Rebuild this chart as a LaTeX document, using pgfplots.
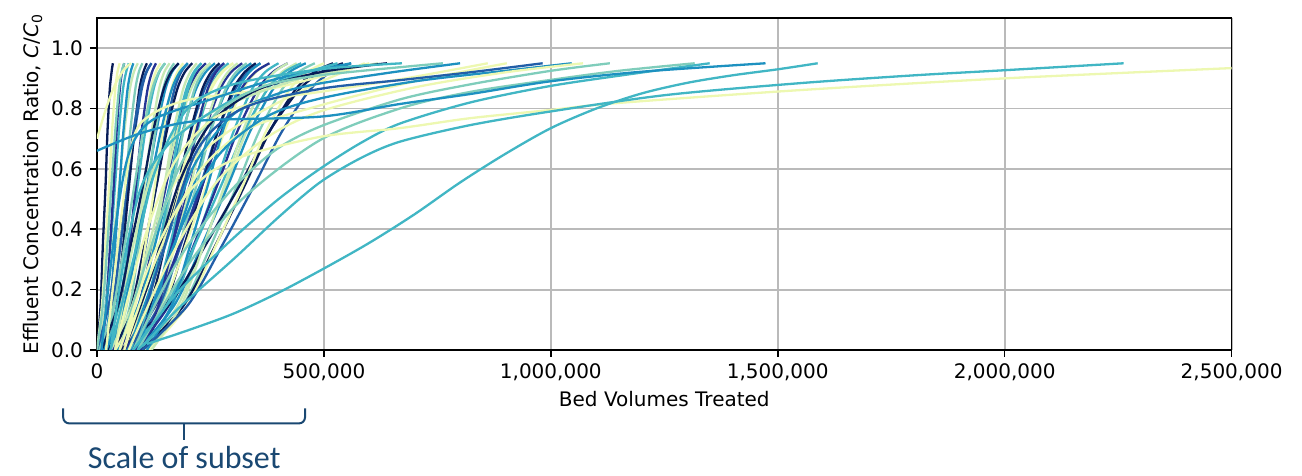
\documentclass[border=0pt]{standalone}
\usepackage{pgfplots}
\pgfplotsset{compat=1.18}
\usepackage{fontspec}
\setmainfont{DejaVu Sans}
\newfontfamily\callout{Carlito}
\definecolor{yl}{HTML}{EDF8B1}
\definecolor{lg}{HTML}{C7E9B4}
\definecolor{mt}{HTML}{7FCDBB}
\definecolor{tl}{HTML}{41B6C4}
\definecolor{bl}{HTML}{1D91C0}
\definecolor{mb}{HTML}{225EA8}
\definecolor{ind}{HTML}{253494}
\definecolor{nv}{HTML}{081D58}
\definecolor{subblue}{HTML}{1A4872}
\definecolor{gridgray}{HTML}{BABABA}
\begin{document}
\begin{tikzpicture}
\path[use as bounding box] (-48.5pt,-63pt) rectangle (602.5pt,175pt);
\begin{axis}[
  at={(0pt,0pt)}, anchor=south west,
  width=567.3pt, height=166pt, scale only axis,
  xmin=0, xmax=2500, ymin=0, ymax=1.1,
  xtick={0,500,1000,1500,2000,2500},
  xticklabels={0,{500,000},{1,000,000},{1,500,000},{2,000,000},{2,500,000}},
  ytick={0,0.2,0.4,0.6,0.8,1.0},
  yticklabels={0.0,0.2,0.4,0.6,0.8,1.0},
  tick align=outside, tick pos=left, major tick length=3.5pt,
  grid=major, grid style={color=gridgray, line width=0.9pt},
  axis line style={line width=0.8pt},
  every tick/.style={black, line width=0.8pt},
  tick label style={font=\fontsize{10}{12}\selectfont},
  label style={font=\fontsize{10}{12}\selectfont},
  xlabel={Bed Volumes Treated},
  ylabel={Effluent Concentration Ratio, \textit{C}/\textit{C}\textsubscript{0}},
  xlabel style={at={([yshift=-24.5pt]axis description cs:0.5,0)}, anchor=center},
  ylabel style={at={([xshift=-32pt]axis description cs:0,0.5)}, anchor=center},
  no markers,
  cycle list={{nv},{yl},{tl},{ind},{lg},{bl},{mt},{mb}},
  every axis plot/.append style={line width=1.15pt, smooth, line join=round},
]
% dense group of breakthrough curves (x in thousands of bed volumes)
\addplot coordinates {(0,0)(8,.15)(13,.35)(19,.55)(23,.72)(28,.86)(32,.92)(35,.95)};
\addplot coordinates {(0,0)(11,.15)(19,.35)(27,.55)(33,.72)(40,.86)(45,.92)(50,.95)};
\addplot coordinates {(5,0)(19,.15)(30,.35)(40,.55)(48,.72)(57,.86)(64,.92)(70,.95)};
\addplot coordinates {(10,0)(21,.15)(29,.35)(37,.55)(43,.72)(50,.86)(55,.92)(60,.95)};
\addplot coordinates {(0,0)(20,.15)(35,.35)(49,.55)(60,.72)(72,.86)(81,.92)(90,.95)};
\addplot coordinates {(15,0)(29,.15)(40,.35)(50,.55)(58,.72)(67,.86)(74,.92)(80,.95)};
\addplot coordinates {(20,0)(38,.15)(51,.35)(63,.55)(73,.72)(84,.86)(92,.92)(100,.95)};
\addplot coordinates {(10,0)(34,.15)(52,.35)(69,.55)(83,.72)(98,.86)(109,.92)(120,.95)};
\addplot coordinates {(25,0)(44,.15)(58,.35)(71,.55)(82,.72)(93,.86)(102,.92)(110,.95)};
\addplot coordinates {(30,0)(54,.15)(72,.35)(89,.55)(103,.72)(118,.86)(129,.92)(140,.95)};
\addplot coordinates {(20,0)(49,.15)(70,.35)(90,.55)(106,.72)(124,.86)(137,.92)(150,.95)};
\addplot coordinates {(35,0)(56,.15)(72,.35)(86,.55)(98,.72)(111,.86)(121,.92)(130,.95)};
\addplot coordinates {(40,0)(66,.15)(86,.35)(105,.55)(120,.72)(136,.86)(148,.92)(160,.95)};
\addplot coordinates {(30,0)(63,.15)(88,.35)(111,.55)(130,.72)(150,.86)(165,.92)(180,.95)};
\addplot coordinates {(45,0)(73,.15)(93,.35)(113,.55)(128,.72)(145,.86)(158,.92)(170,.95)};
\addplot coordinates {(50,0)(83,.15)(108,.35)(131,.55)(150,.72)(170,.86)(185,.92)(200,.95)};
\addplot coordinates {(40,0)(77,.15)(105,.35)(132,.55)(153,.72)(176,.86)(193,.92)(210,.95)};
\addplot coordinates {(55,0)(85,.15)(107,.35)(128,.55)(145,.72)(163,.86)(177,.92)(190,.95)};
\addplot coordinates {(60,0)(97,.15)(125,.35)(152,.55)(173,.72)(196,.86)(213,.92)(230,.95)};
\addplot coordinates {(50,0)(92,.15)(123,.35)(153,.55)(176,.72)(202,.86)(221,.92)(240,.95)};
\addplot coordinates {(65,0)(99,.15)(125,.35)(149,.55)(168,.72)(189,.86)(205,.92)(220,.95)};
\addplot coordinates {(45,0)(92,.15)(128,.35)(161,.55)(188,.72)(217,.86)(239,.92)(260,.95)};
\addplot coordinates {(70,0)(110,.15)(139,.35)(167,.55)(190,.72)(214,.86)(232,.92)(250,.95)};
\addplot coordinates {(60,0)(108,.15)(145,.35)(179,.55)(206,.72)(236,.86)(258,.92)(280,.95)};
\addplot coordinates {(75,0)(118,.15)(150,.35)(180,.55)(205,.72)(231,.86)(251,.92)(270,.95)};
\addplot coordinates {(55,0)(109,.15)(149,.35)(187,.55)(218,.72)(251,.86)(276,.92)(300,.95)};
\addplot coordinates {(80,0)(126,.15)(161,.35)(193,.55)(220,.72)(248,.86)(269,.92)(290,.95)};
\addplot coordinates {(70,0)(125,.15)(166,.35)(205,.55)(236,.72)(270,.86)(295,.92)(320,.95)};
\addplot coordinates {(85,0)(135,.15)(172,.35)(207,.55)(235,.72)(265,.86)(288,.92)(310,.95)};
\addplot coordinates {(65,0)(126,.15)(171,.35)(214,.55)(248,.72)(285,.86)(313,.92)(340,.95)};
\addplot coordinates {(90,0)(143,.15)(182,.35)(220,.55)(250,.72)(282,.86)(306,.92)(330,.95)};
\addplot coordinates {(75,0)(138,.15)(185,.35)(229,.55)(265,.72)(303,.86)(332,.92)(360,.95)};
\addplot coordinates {(95,0)(151,.15)(193,.35)(233,.55)(265,.72)(299,.86)(325,.92)(350,.95)};
\addplot coordinates {(80,0)(146,.15)(196,.35)(242,.55)(280,.72)(320,.86)(350,.92)(380,.95)};
\addplot coordinates {(100,0)(166,.15)(216,.35)(262,.55)(300,.72)(340,.86)(370,.92)(400,.95)};
\addplot coordinates {(85,0)(159,.15)(214,.35)(266,.55)(308,.72)(353,.86)(387,.92)(420,.95)};
\addplot coordinates {(105,0)(179,.15)(234,.35)(286,.55)(328,.72)(373,.86)(407,.92)(440,.95)};
\addplot coordinates {(90,0)(171,.15)(232,.35)(290,.55)(336,.72)(386,.86)(423,.92)(460,.95)};
\addplot coordinates {(110,0)(191,.15)(252,.35)(310,.55)(356,.72)(406,.86)(443,.92)(480,.95)};
\addplot[nv] coordinates {(51,0)(159,.15)(240,.35)(316,.55)(378,.72)(444,.86)(493,.92)(542,.95)};
\addplot coordinates {(100,0)(192,.15)(262,.35)(327,.55)(379,.72)(436,.86)(478,.92)(520,.95)};
\addplot coordinates {(115,0)(200,.15)(263,.35)(323,.55)(371,.72)(423,.86)(462,.92)(500,.95)};
\addplot coordinates {(70,0)(154,.15)(216,.35)(275,.55)(323,.72)(374,.86)(412,.92)(450,.95)};
\addplot coordinates {(60,0)(130,.15)(183,.35)(233,.55)(273,.72)(316,.86)(348,.92)(380,.95)};
\addplot coordinates {(30,0)(78,.15)(115,.35)(149,.55)(176,.72)(206,.86)(228,.92)(250,.95)};
\addplot coordinates {(20,0)(60,.15)(89,.35)(117,.55)(140,.72)(164,.86)(182,.92)(200,.95)};
\addplot coordinates {(5,0)(37,.15)(61,.35)(83,.55)(101,.72)(121,.86)(136,.92)(150,.95)};
\addplot coordinates {(0,0)(26,.15)(46,.35)(65,.55)(80,.72)(96,.86)(108,.92)(120,.95)};
\addplot coordinates {(10,0)(47,.15)(75,.35)(102,.55)(123,.72)(146,.86)(163,.92)(180,.95)};
\addplot coordinates {(40,0)(97,.15)(140,.35)(180,.55)(213,.72)(248,.86)(274,.92)(300,.95)};
\addplot coordinates {(80,0)(113,.15)(138,.35)(161,.55)(180,.72)(200,.86)(215,.92)(230,.95)};
\addplot coordinates {(95,0)(136,.15)(166,.35)(195,.55)(218,.72)(243,.86)(262,.92)(280,.95)};
\addplot coordinates {(120,0)(186,.15)(236,.35)(282,.55)(320,.72)(360,.86)(390,.92)(420,.95)};
\addplot coordinates {(110,0)(165,.15)(206,.35)(245,.55)(276,.72)(310,.86)(335,.92)(360,.95)};
\addplot coordinates {(0,0)(13,.15)(23,.35)(32,.55)(40,.72)(48,.86)(54,.92)(60,.95)};
\addplot coordinates {(100,0)(201,.15)(277,.35)(348,.55)(406,.72)(468,.86)(514,.92)(560,.95)};
% curves with flat tails
\addplot[yl] coordinates {(0,.70)(20,.8)(40,.88)(60,.93)(75,.95)};
\addplot[yl] coordinates {(20,0)(50,.4)(80,.7)(120,.78)(205,.83)(396,.87)(600,.95)};
\addplot[lg] coordinates {(40,0)(80,.35)(130,.62)(200,.74)(300,.82)(450,.9)(620,.95)};
\addplot[bl] coordinates {(10,0)(40,.4)(70,.65)(120,.76)(250,.83)(400,.9)(560,.95)};
\addplot[yl] coordinates {(60,0)(110,.3)(170,.55)(250,.68)(350,.78)(480,.88)(590,.95)};
\addplot[tl] coordinates {(30,0)(60,.3)(100,.55)(170,.7)(300,.83)(440,.91)(530,.95)};
% long curves
\addplot[nv] coordinates {(60,0)(120,.25)(180,.55)(250,.75)(350,.86)(491,.92)(639,.95)};
\addplot[tl] coordinates {(30,0)(80,.3)(130,.6)(200,.8)(300,.88)(491,.93)(672,.95)};
\addplot[mt] coordinates {(50,0)(110,.3)(180,.6)(260,.78)(360,.87)(491,.91)(762,.95)};
\addplot[bl] coordinates {(70,0)(140,.3)(210,.6)(300,.78)(400,.85)(491,.883)(650,.92)(800,.95)};
\addplot[yl] coordinates {(40,0)(100,.35)(170,.62)(260,.77)(380,.83)(491,.855)(680,.9)(861,.95)};
\addplot[yl] coordinates {(60,0)(130,.3)(220,.58)(330,.73)(491,.81)(700,.89)(903,.95)};
\addplot[mb] coordinates {(80,0)(150,.35)(220,.66)(320,.8)(491,.865)(667,.894)(822,.92)(982,.95)};
\addplot[bl] coordinates {(90,0)(170,.35)(260,.63)(370,.77)(491,.833)(700,.89)(900,.925)(1046,.95)};
\addplot[yl] coordinates {(70,0)(160,.3)(260,.55)(370,.7)(491,.79)(700,.87)(900,.92)(1071,.95)};
\addplot[mt] coordinates {(80,0)(180,.3)(290,.52)(391,.66)(491,.74)(667,.83)(822,.88)(1000,.925)(1130,.95)};
\addplot[mt] coordinates {(90,0)(200,.28)(320,.5)(491,.695)(667,.80)(822,.855)(1000,.895)(1150,.925)(1317,.95)};
\addplot[tl] coordinates {(80,0)(130,.1)(183,.2)(300,.37)(400,.5)(491,.6)(580,.685)(667,.75)(822,.82)(1000,.875)(1180,.915)(1350,.95)};
\addplot[bl] coordinates {(0,.66)(100,.72)(227,.76)(491,.773)(667,.815)(822,.848)(998,.89)(1200,.922)(1473,.95)};
\addplot[yl] coordinates {(50,0)(120,.3)(200,.52)(300,.63)(491,.706)(667,.735)(822,.768)(998,.795)(1145,.818)(1548,.861)(2000,.9)(2500,.934)};
\addplot[tl] coordinates {(90,0)(130,.06)(183,.143)(300,.3)(400,.44)(491,.555)(580,.635)(667,.69)(822,.745)(998,.79)(1255,.845)(1548,.884)(1800,.91)(2000,.927)(2262,.95)};
\addplot[tl] coordinates {(110,.02)(200,.065)(300,.12)(400,.19)(500,.27)(600,.355)(700,.45)(800,.555)(900,.65)(1000,.735)(1100,.80)(1200,.85)(1300,.885)(1400,.91)(1500,.93)(1588,.95)};
\end{axis}
\draw[subblue, line width=1pt, rounded corners=3pt] (-16.9pt,-29.2pt) -- (-16.9pt,-36.7pt) -- (104pt,-36.7pt) -- (104pt,-29.2pt);
\draw[subblue, line width=1pt] (43.5pt,-36.7pt) -- (43.5pt,-45pt);
\node[anchor=base, inner sep=0pt, text=subblue, font=\callout\fontsize{16}{19}\selectfont] at (43.6pt,-59.5pt) {Scale of subset};
\end{tikzpicture}
\end{document}
